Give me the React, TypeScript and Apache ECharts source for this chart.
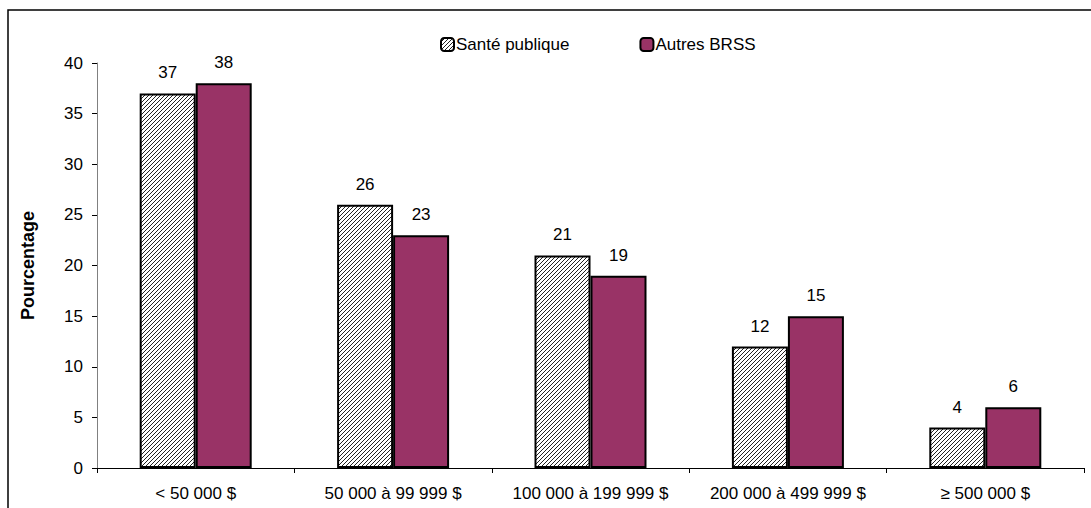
import React, { useEffect, useRef } from "react";
import * as echarts from "echarts";

const categories = ["< 50 000 $", "50 000 à 99 999 $", "100 000 à 199 999 $", "200 000 à 499 999 $", "≥ 500 000 $"];
const santePublique = [37, 26, 21, 12, 4];
const autresBRSS = [38, 23, 19, 15, 6];
const seriesNames = ["Santé publique", "Autres BRSS"];
const yTicks = { min: 0, max: 40, interval: 5 };

const hatchSvg =
  "data:image/svg+xml;utf8," +
  encodeURIComponent(
    '<svg xmlns="http://www.w3.org/2000/svg" width="4" height="4">' +
      '<rect width="4" height="4" fill="#ffffff"/>' +
      '<path d="M-1,1 L1,-1 M0,4 L4,0 M3,5 L5,3" stroke="#222" stroke-width="1"/>' +
      "</svg>"
  );

export default function App() {
  const ref = useRef<HTMLDivElement>(null);
  useEffect(() => {
    if (!ref.current) return;
    const chart = echarts.init(ref.current, undefined, { renderer: "svg" });
    const font = "'Liberation Sans', Arial, sans-serif";
    const labelCommon = {
      show: true,
      position: "top" as const,
      distance: 12,
      color: "#000",
      fontSize: 17,
      fontFamily: font,
    };
    chart.setOption({
      animation: false,
      backgroundColor: "#fff",
      textStyle: { fontFamily: font },
      graphic: [
        {
          type: "rect",
          shape: { x: 8, y: 10, width: 1200, height: 600 },
          style: { fill: "none", stroke: "#000", lineWidth: 1.5 },
          silent: true,
        },
      ],
      legend: {
        left: 435,
        top: 31,
        itemWidth: 13,
        itemHeight: 13,
        itemGap: 70,
        textStyle: { fontSize: 17, color: "#000", fontFamily: font, padding: [0, 0, 0, -3] },
        data: seriesNames,
      },
      grid: { left: 97, right: 7, top: 63, bottom: 40, containLabel: false },
      xAxis: {
        type: "category",
        data: categories,
        axisLine: { lineStyle: { color: "#000", width: 1 } },
        axisTick: { show: true, length: 5, lineStyle: { color: "#000" } },
        axisLabel: { color: "#000", fontSize: 17, fontFamily: font, margin: 17, interval: 0 },
      },
      yAxis: {
        type: "value",
        min: yTicks.min,
        max: yTicks.max,
        interval: yTicks.interval,
        name: "Pourcentage",
        nameLocation: "middle",
        nameGap: 60,
        nameTextStyle: { fontWeight: "bold", fontSize: 18, color: "#000", fontFamily: font },
        axisLine: { show: true, lineStyle: { color: "#808080", width: 1 } },
        axisTick: { show: true, length: 5, lineStyle: { color: "#000" } },
        axisLabel: { color: "#000", fontSize: 17, fontFamily: font, margin: 14 },
        splitLine: { show: false },
      },
      series: [
        {
          name: seriesNames[0],
          type: "bar",
          data: santePublique,
          barWidth: 56,
          barGap: "0%",
          itemStyle: {
            color: { image: hatchSvg, repeat: "repeat" },
            borderColor: "#000",
            borderWidth: 2,
          },
          label: labelCommon,
        },
        {
          name: seriesNames[1],
          type: "bar",
          data: autresBRSS,
          barWidth: 56,
          barGap: "0%",
          itemStyle: { color: "#993366", borderColor: "#000", borderWidth: 2 },
          label: labelCommon,
        },
      ],
    });
    return () => chart.dispose();
  }, []);
  return (
    <div
      ref={ref}
      style={{ position: "fixed", left: 0, top: 0, width: 1091, height: 508 }}
    />
  );
}
